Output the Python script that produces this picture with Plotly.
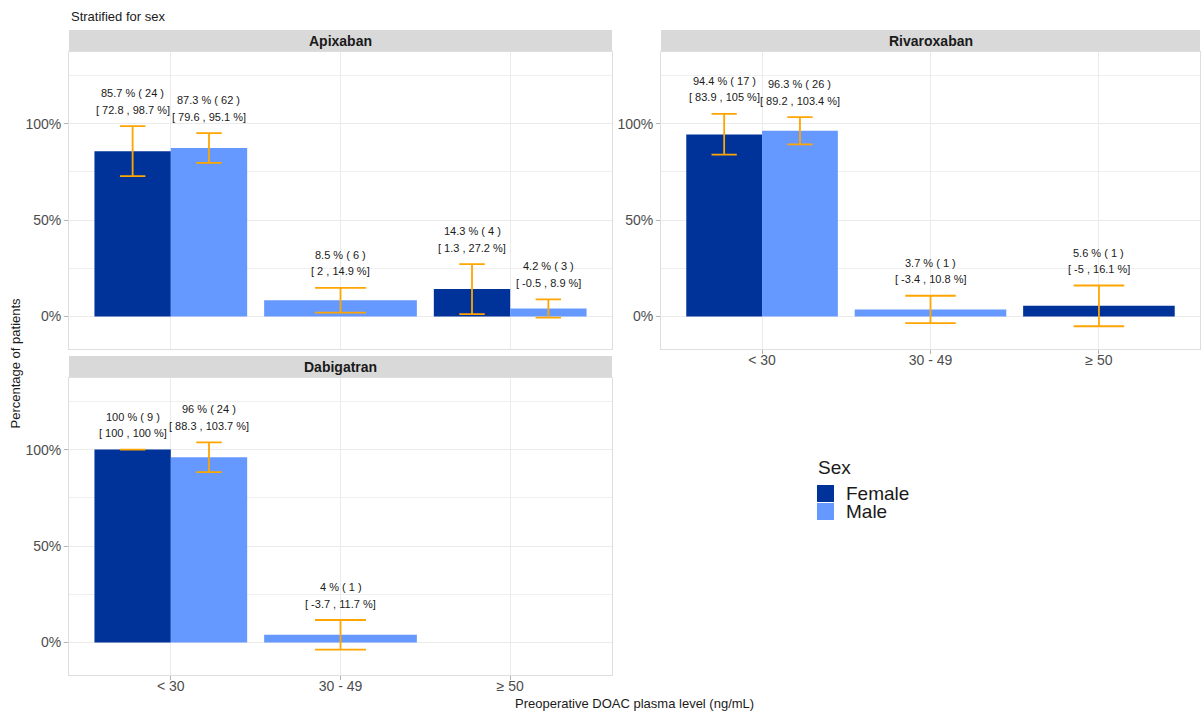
import plotly.graph_objects as go

# ---- data -------------------------------------------------------------
levels = ["< 30", "30 - 49", "≥ 50"]
sexes = ["Female", "Male"]
sex_colors = {"Female": "#003399", "Male": "#6699FF"}
title_text = "Stratified for sex"

apix_level = ["< 30", "< 30", "30 - 49", "≥ 50", "≥ 50"]
apix_sex = ["Female", "Male", "Male", "Female", "Male"]
apix_pct = [85.7, 87.3, 8.5, 14.3, 4.2]
apix_n = [24, 62, 6, 4, 3]
apix_lo = [72.8, 79.6, 2, 1.3, -0.5]
apix_hi = [98.7, 95.1, 14.9, 27.2, 8.9]

riva_level = ["< 30", "< 30", "30 - 49", "≥ 50"]
riva_sex = ["Female", "Male", "Male", "Female"]
riva_pct = [94.4, 96.3, 3.7, 5.6]
riva_n = [17, 26, 1, 1]
riva_lo = [83.9, 89.2, -3.4, -5]
riva_hi = [105, 103.4, 10.8, 16.1]

dabi_level = ["< 30", "< 30", "30 - 49"]
dabi_sex = ["Female", "Male", "Male"]
dabi_pct = [100, 96, 4]
dabi_n = [9, 24, 1]
dabi_lo = [100, 88.3, -3.7]
dabi_hi = [100, 103.7, 11.7]

panels = [
    ("Apixaban", apix_level, apix_sex, apix_pct, apix_n, apix_lo, apix_hi),
    ("Rivaroxaban", riva_level, riva_sex, riva_pct, riva_n, riva_lo, riva_hi),
    ("Dabigatran", dabi_level, dabi_sex, dabi_pct, dabi_n, dabi_lo, dabi_hi),
]

# ---- layout geometry (pixels) ------------------------------------------
W, H = 1201, 711
FONT = "Liberation Sans, Arial, Helvetica, sans-serif"


def px(x):
    return x / W


def py(y):
    return 1 - y / H


panel_x = {"Apixaban": (69, 612), "Rivaroxaban": (661, 1200), "Dabigatran": (69, 612)}
panel_y = {"Apixaban": (52, 349), "Rivaroxaban": (52, 349), "Dabigatran": (378, 675)}
axis_id = {"Apixaban": "", "Rivaroxaban": "2", "Dabigatran": "3"}

X_RANGE = [0.4, 3.6]
Y_RANGE = [-16.8, 137.1]
DODGE = 0.9
CAP = 0.3
ORANGE = "#FFA500"

fig = go.Figure()
annotations = []
shapes = []


def fmt(v):
    return f"{v:g}"


for name, lev, sex, pct, n, lo, hi in panels:
    sfx = axis_id[name]
    xref, yref = "x" + sfx, "y" + sfx
    x0p, x1p = panel_x[name]
    unit_px = (x1p - x0p) / (X_RANGE[1] - X_RANGE[0])

    # dodge positions: bars sharing a level split the width
    counts = {l: lev.count(l) for l in levels}
    seen = {l: 0 for l in levels}
    xpos, widths = [], []
    for l in lev:
        k = counts[l]
        w = DODGE / k
        center = levels.index(l) + 1
        xpos.append(center - DODGE / 2 + w * (seen[l] + 0.5))
        widths.append(w)
        seen[l] += 1

    for s in sexes:
        idx = [i for i, v in enumerate(sex) if v == s]
        if not idx:
            continue
        fig.add_trace(go.Bar(
            x=[xpos[i] for i in idx], y=[pct[i] for i in idx],
            width=[widths[i] for i in idx],
            marker=dict(color=sex_colors[s], line=dict(width=0)),
            name=s, showlegend=False, xaxis=xref, yaxis=yref,
            hoverinfo="skip",
        ))

    # error bars, grouped by cap width
    for w in sorted(set(widths)):
        idx = [i for i in range(len(lev)) if widths[i] == w]
        fig.add_trace(go.Scatter(
            x=[xpos[i] for i in idx], y=[pct[i] for i in idx],
            mode="markers", marker=dict(size=1, opacity=0),
            error_y=dict(type="data", symmetric=False,
                         array=[hi[i] - pct[i] for i in idx],
                         arrayminus=[pct[i] - lo[i] for i in idx],
                         color=ORANGE, thickness=1.8,
                         width=CAP * (w / DODGE) * unit_px / 2),
            showlegend=False, xaxis=xref, yaxis=yref, hoverinfo="skip",
        ))

    # value labels above the upper interval bound
    for i in range(len(lev)):
        annotations.append(dict(
            x=xpos[i], y=hi[i], xref=xref, yref=yref,
            text=f"{fmt(pct[i])} % ( {n[i]} )", showarrow=False,
            yanchor="middle", yshift=33,
            font=dict(family=FONT, size=11, color="#1A1A1A")))
        annotations.append(dict(
            x=xpos[i], y=hi[i], xref=xref, yref=yref,
            text=f"[ {fmt(lo[i])} , {fmt(hi[i])} %]", showarrow=False,
            yanchor="middle", yshift=16.5,
            font=dict(family=FONT, size=11, color="#1A1A1A")))

    # facet strip
    y0p, y1p = panel_y[name]
    shapes.append(dict(type="rect", xref="paper", yref="paper",
                       x0=px(x0p), x1=px(x1p), y0=py(y0p), y1=py(y0p - 22),
                       fillcolor="#D9D9D9", line=dict(width=0), layer="below"))
    annotations.append(dict(
        x=px((x0p + x1p) / 2), y=py(y0p - 11), xref="paper", yref="paper",
        text=f"<b>{name}</b>", showarrow=False, xanchor="center", yanchor="middle",
        font=dict(family=FONT, size=14, color="#1A1A1A")))

    axis_common = dict(showline=True, mirror=True, linecolor="#DEDEDE", linewidth=1,
                       ticks="outside", ticklen=4, tickcolor="#B3B3B3",
                       gridcolor="#EBEBEB", gridwidth=1, zeroline=False,
                       tickfont=dict(family=FONT, size=14, color="#4D4D4D"))
    xa = dict(axis_common, domain=[px(x0p), px(x1p)], range=X_RANGE,
              tickmode="array", tickvals=[1, 2, 3], ticktext=levels,
              ticklabelstandoff=-6, anchor="y" + sfx)
    if name == "Apixaban":
        xa.update(showticklabels=False, ticks="")
    ya = dict(axis_common, domain=[py(y1p), py(y0p)], range=Y_RANGE,
              tickmode="array", tickvals=[0, 50, 100],
              ticktext=["0%", "50%", "100%"], anchor="x" + sfx,
              minor=dict(tickmode="array", tickvals=[25, 75, 125], showgrid=True,
                         gridcolor="#EFEFEF", gridwidth=0.6, ticks=""))
    fig.layout["xaxis" + sfx] = xa
    fig.layout["yaxis" + sfx] = ya

# ---- titles ---------------------------------------------------------------
annotations.append(dict(x=px(69), y=py(17), xref="paper", yref="paper",
                        text=title_text, showarrow=False, xanchor="left", yanchor="middle",
                        font=dict(family=FONT, size=13, color="#1A1A1A")))
annotations.append(dict(x=px(15), y=py(363.5), xref="paper", yref="paper",
                        text="Percentage of patients", showarrow=False, textangle=-90,
                        xanchor="center", yanchor="middle",
                        font=dict(family=FONT, size=13, color="#1A1A1A")))
annotations.append(dict(x=px(634), y=py(703), xref="paper", yref="paper",
                        text="Preoperative DOAC plasma level (ng/mL)", showarrow=False,
                        xanchor="center", yanchor="middle",
                        font=dict(family=FONT, size=13, color="#1A1A1A")))

# ---- legend -----------------------------------------------------------------
annotations.append(dict(x=px(816), y=py(467), xref="paper", yref="paper",
                        text="Sex", showarrow=False, xanchor="left", yanchor="middle",
                        font=dict(family=FONT, size=19, color="#1A1A1A")))
for k, s in enumerate(sexes):
    top = 485 + 18 * k
    shapes.append(dict(type="rect", xref="paper", yref="paper",
                       x0=px(817), x1=px(834), y0=py(top + 17), y1=py(top),
                       fillcolor=sex_colors[s], line=dict(width=0)))
    annotations.append(dict(x=px(844), y=py(top + 8.5), xref="paper", yref="paper",
                            text=s, showarrow=False, xanchor="left", yanchor="middle",
                            font=dict(family=FONT, size=19, color="#1A1A1A")))

fig.update_layout(
    width=W, height=H, margin=dict(l=0, r=0, t=0, b=0),
    paper_bgcolor="white", plot_bgcolor="white",
    barmode="overlay", showlegend=False,
    annotations=annotations, shapes=shapes,
)

fig.write_html("out.html")
